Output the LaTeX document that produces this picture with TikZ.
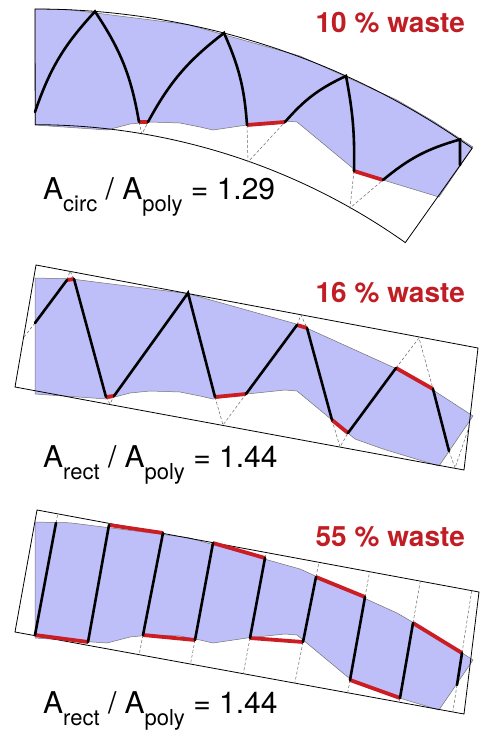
\documentclass[tikz,border=0pt]{standalone}
\usepackage{fontspec}
\setmainfont{TeX Gyre Heros}
\definecolor{lav}{RGB}{190,190,248}
\definecolor{wred}{RGB}{204,28,36}
\definecolor{tred}{RGB}{192,30,36}
\newcommand\mysub[1]{\raisebox{-12pt}{\fontsize{22}{22}\selectfont #1}}
\newcommand\polypath{(35,9) -- (70,9.8) -- (188,24.6) -- (300,56) -- (397,100) -- (433,121) -- (473,147) -- (439,197) -- (383,180) -- (355,170) -- (297,122) -- (285,121) -- (247,125) -- (213,130) -- (200,127) -- (180,123) -- (150,122) -- (130,124) -- (107,130) -- (35,125) -- cycle}
\begin{document}
\begin{tikzpicture}[x=1pt,y=-1pt,
  cut/.style={line width=2.6pt,line cap=round},
  waste/.style={line width=3.8pt,draw=wred},
  guide/.style={draw=black!60,line width=0.5pt,dash pattern=on 3pt off 2pt},
  frame/.style={line width=0.8pt},
  polyfill/.style={fill=lav,draw=black!55,line width=0.5pt},
  wastetxt/.style={anchor=base east,inner sep=0pt,text=tred,font=\bfseries\fontsize{28}{28}\selectfont},
  ratiotxt/.style={anchor=base west,inner sep=0pt,font=\fontsize{30}{30}\selectfont}]
\useasboundingbox (0,0) rectangle (480,731);

% ---------- panel 1 ----------
\path[polyfill] \polypath;
\draw[frame] (35,9) arc[start angle=90,end angle=54.67,radius=756pt] -- (405.3,242.6) arc[start angle=54.67,end angle=90,radius=640pt] -- cycle;
\draw[guide] (139,122) -- (142,134) -- (148,122);
\draw[guide] (247,125) -- (248,162) -- (285,122);
\draw[guide] (354,171) -- (350,208) -- (383,180);
\draw[waste] (139,122) -- (148,122);
\draw[waste] (247,125) -- (285,122);
\draw[waste] (354,171) -- (383,180);
\draw[cut] (35,112) to[bend left=12] (95,11.5) to[bend left=12] (139,122);
\draw[cut] (148,122) to[bend left=12] (224,33) to[bend left=10] (247,125);
\draw[cut] (285,122) to[bend left=12] (346,76) to[bend left=6] (354,171);
\draw[cut] (383,180) to[bend left=12] (460,139.5) -- (460,165);
\node[wastetxt] (w1) at (465,32) {10 \% waste};
\node[ratiotxt] (r1) at (43,199) {A\mysub{circ} / A\mysub{poly} = 1.29};

% ---------- panel 2 ----------
\begin{scope}[yshift=-269pt]
\path[polyfill] \polypath;
\end{scope}
\draw[frame] (36,265) -- (478,348) -- (464,470) -- (15,387) -- cycle;
\draw[guide] (35,323) -- (24,337);
\draw[guide] (67,280) -- (70,271) -- (74,279);
\draw[guide] (106,397) -- (110,404) -- (114,396);
\draw[guide] (215,397) -- (223,425) -- (246,394);
\draw[guide] (297,325) -- (301,315) -- (307,328);
\draw[guide] (332,420) -- (340,447) -- (348,433);
\draw[guide] (396,368) -- (419,338) -- (433,389);
\draw[guide] (449,451) -- (455,468) -- (470,424);
\draw[waste] (67,280) -- (74,279);
\draw[waste] (106,397) -- (114,396);
\draw[waste] (215,397) -- (246,394);
\draw[waste] (297,325) -- (307,328);
\draw[waste] (332,420) -- (348,433);
\draw[waste] (396,368) -- (433,389);
\draw[cut] (35,323) -- (67,280);
\draw[cut] (74,279) -- (106,397);
\draw[cut] (114,396) -- (188,293) -- (215,397);
\draw[cut] (246,394) -- (297,325);
\draw[cut] (307,328) -- (332,420);
\draw[cut] (348,433) -- (396,368);
\draw[cut] (433,389) -- (449,451);
\node[wastetxt] (w2) at (465,302) {16 \% waste};
\node[ratiotxt] (r2) at (43,467) {A\mysub{rect} / A\mysub{poly} = 1.44};

% ---------- panel 3 ----------
\begin{scope}[yshift=-513pt]
\path[polyfill] \polypath;
\end{scope}
\draw[frame] (37,510) -- (479,592) -- (464,714) -- (15,632) -- cycle;
\draw[guide] (56,523) -- (57.7,513.8);
\draw[guide] (143,635) -- (139.1,654.7);
\draw[guide] (195,640) -- (190.5,664.1);
\draw[guide] (265,558) -- (266,552.5);
\draw[guide] (250,638) -- (243.3,673.7);
\draw[guide] (316,577) -- (318.9,562.3);
\draw[guide] (303,642) -- (294.8,683.1);
\draw[guide] (365,597) -- (369.6,571.7);
\draw[guide] (350,680) -- (347.7,692.8);
\draw[guide] (413,623) -- (420.3,581.1);
\draw[guide] (400,698) -- (399.3,702.2);
\draw[guide] (462,653) -- (471.7,590.6);
\draw[guide] (457,685) -- (452.8,711.9);
\draw[waste] (35,635) -- (88,642);
\draw[waste] (109,525) -- (163,533);
\draw[waste] (143,635) -- (195,640);
\draw[waste] (213,543) -- (265,558);
\draw[waste] (250,638) -- (303,642);
\draw[waste] (316,577) -- (365,597);
\draw[waste] (350,680) -- (400,698);
\draw[waste] (413,623) -- (462,653);
\draw[cut] (35,635) -- (56,523);
\draw[cut] (88,642) -- (109,525);
\draw[cut] (163,533) -- (143,635);
\draw[cut] (195,640) -- (213,543);
\draw[cut] (265,558) -- (250,638);
\draw[cut] (303,642) -- (316,577);
\draw[cut] (365,597) -- (350,680);
\draw[cut] (400,698) -- (413,623);
\draw[cut] (462,653) -- (457,685);
\node[wastetxt] (w3) at (465,546) {55 \% waste};
\node[ratiotxt] (r3) at (43,713) {A\mysub{rect} / A\mysub{poly} = 1.44};
\end{tikzpicture}
\end{document}
